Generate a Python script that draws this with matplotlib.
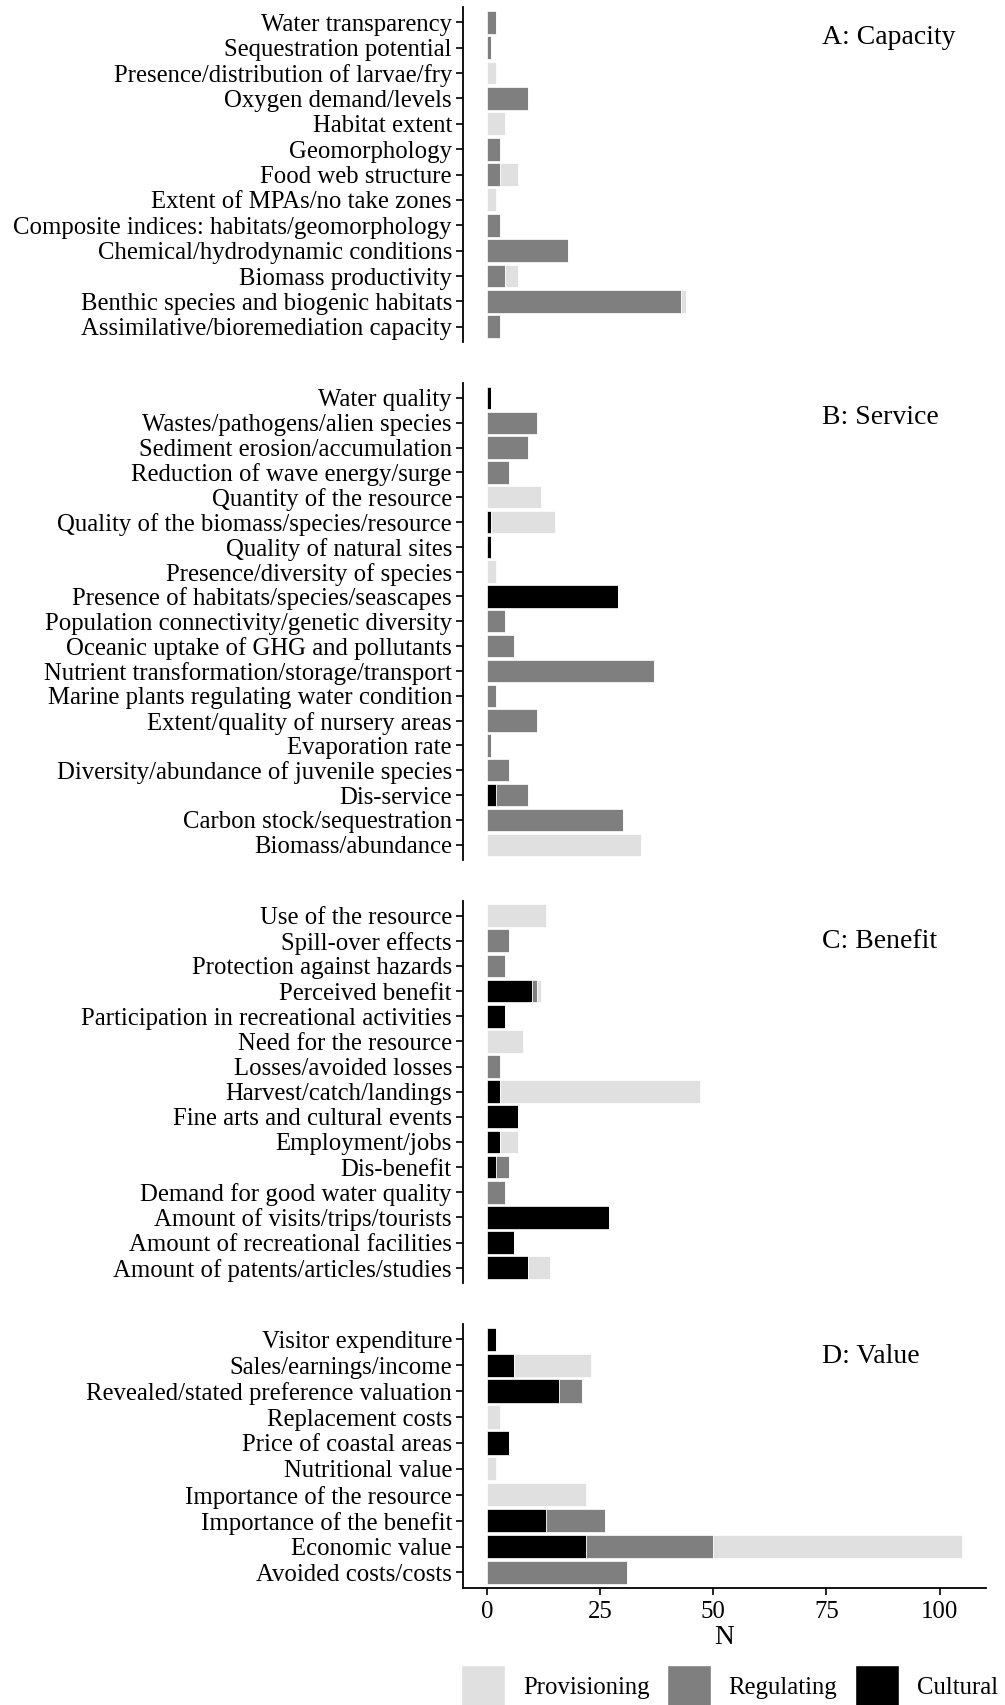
import numpy as np
import matplotlib
matplotlib.use("Agg")
import matplotlib.pyplot as plt
from matplotlib.patches import Patch

plt.rcParams['font.family'] = ['Liberation Serif', 'DejaVu Serif']

# panel A: capacity (listed top to bottom)
labels_a = ["Water transparency", "Sequestration potential", "Presence/distribution of larvae/fry",
            "Oxygen demand/levels", "Habitat extent", "Geomorphology", "Food web structure",
            "Extent of MPAs/no take zones", "Composite indices: habitats/geomorphology",
            "Chemical/hydrodynamic conditions", "Biomass productivity",
            "Benthic species and biogenic habitats", "Assimilative/bioremediation capacity"]
cult_a = [0, 0, 0, 0, 0, 0, 0, 0, 0, 0, 0, 0, 0]
reg_a = [2, 1, 0, 9, 0, 3, 3, 0, 3, 18, 4, 43, 3]
prov_a = [0, 0, 2, 0, 4, 0, 4, 2, 0, 0, 3, 1, 0]

# panel B: service
labels_b = ["Water quality", "Wastes/pathogens/alien species", "Sediment erosion/accumulation",
            "Reduction of wave energy/surge", "Quantity of the resource",
            "Quality of the biomass/species/resource", "Quality of natural sites",
            "Presence/diversity of species", "Presence of habitats/species/seascapes",
            "Population connectivity/genetic diversity", "Oceanic uptake of GHG and pollutants",
            "Nutrient transformation/storage/transport", "Marine plants regulating water condition",
            "Extent/quality of nursery areas", "Evaporation rate",
            "Diversity/abundance of juvenile species", "Dis-service",
            "Carbon stock/sequestration", "Biomass/abundance"]
cult_b = [1, 0, 0, 0, 0, 1, 1, 0, 29, 0, 0, 0, 0, 0, 0, 0, 2, 0, 0]
reg_b = [0, 11, 9, 5, 0, 0, 0, 0, 0, 4, 6, 37, 2, 11, 1, 5, 7, 30, 0]
prov_b = [0, 0, 0, 0, 12, 14, 0, 2, 0, 0, 0, 0, 0, 0, 0, 0, 0, 0, 34]

# panel C: benefit
labels_c = ["Use of the resource", "Spill-over effects", "Protection against hazards",
            "Perceived benefit", "Participation in recreational activities",
            "Need for the resource", "Losses/avoided losses", "Harvest/catch/landings",
            "Fine arts and cultural events", "Employment/jobs", "Dis-benefit",
            "Demand for good water quality", "Amount of visits/trips/tourists",
            "Amount of recreational facilities", "Amount of patents/articles/studies"]
cult_c = [0, 0, 0, 10, 4, 0, 0, 3, 7, 3, 2, 0, 27, 6, 9]
reg_c = [0, 5, 4, 1, 0, 0, 3, 0, 0, 0, 3, 4, 0, 0, 0]
prov_c = [13, 0, 0, 1, 0, 8, 0, 44, 0, 4, 0, 0, 0, 0, 5]

# panel D: value
labels_d = ["Visitor expenditure", "Sales/earnings/income", "Revealed/stated preference valuation",
            "Replacement costs", "Price of coastal areas", "Nutritional value",
            "Importance of the resource", "Importance of the benefit", "Economic value",
            "Avoided costs/costs"]
cult_d = [2, 6, 16, 0, 5, 0, 0, 13, 22, 0]
reg_d = [0, 0, 5, 0, 0, 0, 0, 13, 28, 31]
prov_d = [0, 17, 0, 3, 0, 2, 22, 0, 55, 0]

panels = [("A: Capacity", labels_a, cult_a, reg_a, prov_a),
          ("B: Service", labels_b, cult_b, reg_b, prov_b),
          ("C: Benefit", labels_c, cult_c, reg_c, prov_c),
          ("D: Value", labels_d, cult_d, reg_d, prov_d)]

xticks = [0, 25, 50, 75, 100]
col_prov = "#e0e0e0"
col_reg = "#7f7f7f"
col_cult = "#000000"

W, H = 1005, 1705
fig = plt.figure(figsize=(W / 100, H / 100), dpi=100)

FS = 17.8
left_px, right_px = 463, 986
top_px, bottom_px = 7, 1588
gap = 41
units = [len(p[1]) + 1.2 for p in panels]
unit_px = (bottom_px - top_px - gap * 3) / sum(units)
# how far below the top row each panel title sits (in rows)
title_drop = [0.47, 0.65, 0.9, 0.54]

y0 = top_px
axes = []
for (title, labels, cult, reg, prov), u, drop in zip(panels, units, title_drop):
    h = u * unit_px
    ax = fig.add_axes([left_px / W, 1 - (y0 + h) / H, (right_px - left_px) / W, h / H])
    y0 += h + gap
    n = len(labels)
    ypos = np.arange(n)[::-1] + 1
    cult = np.array(cult)
    reg = np.array(reg)
    prov = np.array(prov)
    kw = dict(height=0.9, edgecolor="white", linewidth=0.5)
    ax.barh(ypos, cult, color=col_cult, **kw)
    ax.barh(ypos, reg, left=cult, color=col_reg, **kw)
    ax.barh(ypos, prov, left=cult + reg, color=col_prov, **kw)
    ax.set_yticks(ypos)
    ax.set_yticklabels(labels, fontsize=FS)
    ax.set_ylim(0.4, n + 0.6)
    ax.set_xlim(-5.25, 110.25)
    for s in ["top", "right"]:
        ax.spines[s].set_visible(False)
    ax.spines["left"].set_linewidth(1.3)
    ax.spines["bottom"].set_linewidth(1.3)
    ax.tick_params(axis="y", length=5, width=1.2, pad=3)
    ax.tick_params(axis="x", length=5, width=1.2, pad=4, labelsize=FS)
    ax.text(74, n - drop, title, fontsize=20, ha="left", va="center_baseline")
    axes.append(ax)

for ax in axes[:-1]:
    ax.spines["bottom"].set_visible(False)
    ax.set_xticks([])

axes[-1].set_xticks(xticks)
axes[-1].set_xlabel("N", fontsize=FS + 2, labelpad=2)

handles = [Patch(facecolor=col_prov, edgecolor="white", label="Provisioning"),
           Patch(facecolor=col_reg, edgecolor="white", label="Regulating"),
           Patch(facecolor=col_cult, edgecolor="white", label="Cultural")]
fig.legend(handles=handles, loc="center left", bbox_to_anchor=(461 / W, 1 - 1686 / H),
           ncol=3, frameon=False, fontsize=FS, handlelength=1.78, handleheight=2.2,
           handletextpad=0.73, columnspacing=0.69, borderpad=0, borderaxespad=0)

fig.savefig("out.png", dpi=100)
